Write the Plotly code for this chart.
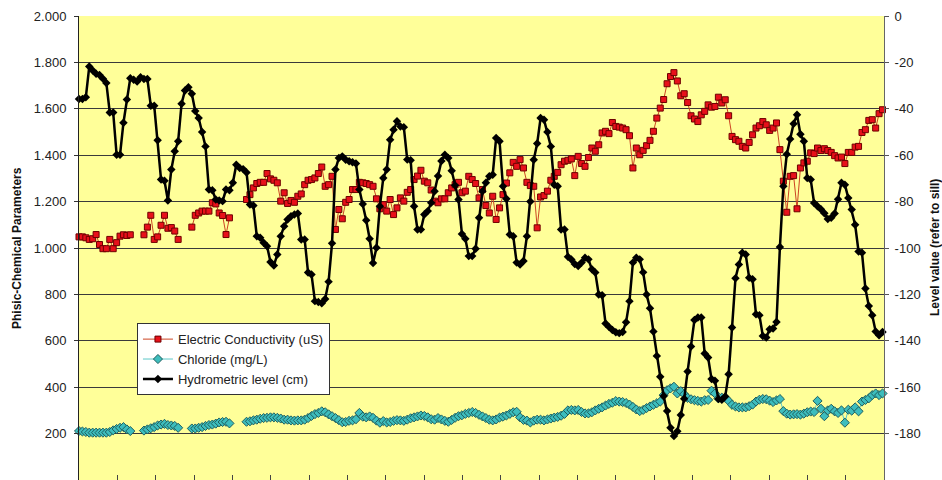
import plotly.graph_objects as go

# ---------------- data ----------------
week = list(range(236))

hydrometric_level = [
    -35.8, -35.8, -35.0, -21.8, -23.5, -24.9, -25.4, -27.0, -28.9, -41.6,
    -41.6, -59.8, -59.8, -46.0, -36.0, -26.8, -27.5, -28.2, -26.4, -27.2,
    -27.2, -38.7, -38.7, -53.6, -70.5, -71.0, -79.5, -66.2, -58.3, -54.0,
    -37.8, -32.1, -30.7, -33.5, -41.0, -44.0, -50.0, -56.2, -74.8, -75.1,
    -79.1, -79.5, -79.8, -74.8, -75.1, -71.9, -64.1, -65.5, -66.0, -67.5,
    -81.3, -81.7, -94.9, -95.6, -97.7, -99.2, -106.0, -107.5, -102.8, -94.9,
    -90.6, -87.7, -86.3, -85.6, -85.1, -96.3, -96.3, -110.6, -111.4, -122.9,
    -123.3, -123.8, -122.0, -114.5, -98.0, -66.2, -61.2, -60.5, -62.0, -62.6,
    -63.0, -63.6, -74.8, -81.0, -88.0, -96.0, -106.5, -99.9, -82.0, -69.8,
    -66.2, -53.3, -49.0, -45.4, -47.6, -47.9, -61.9, -62.2, -82.0, -92.0,
    -92.0, -85.6, -84.1, -80.5, -75.5, -69.0, -62.5, -59.8, -61.2, -66.7,
    -73.0, -79.1, -94.0, -96.0, -103.5, -103.5, -100.3, -87.0, -75.5, -71.9,
    -69.1, -68.4, -52.6, -54.0, -73.4, -78.8, -94.2, -94.9, -106.3, -107.1,
    -105.6, -94.9, -80.0, -62.0, -55.0, -44.0, -44.7, -50.0, -56.2, -72.7,
    -73.4, -92.0, -92.0, -103.8, -105.0, -106.9, -107.8, -106.3, -104.2, -104.9,
    -109.2, -110.6, -120.0, -120.4, -132.5, -134.0, -135.3, -136.3, -136.7, -136.2,
    -132.0, -122.9, -106.3, -104.2, -104.9, -110.5, -120.0, -126.0, -136.0, -146.5,
    -155.5, -163.8, -170.3, -177.5, -181.0, -179.0, -172.0, -165.0, -153.2, -142.5,
    -131.0, -130.0, -130.0, -145.5, -147.2, -156.5, -157.2, -165.1, -165.4, -164.0,
    -154.4, -134.3, -113.0, -107.1, -102.0, -102.8, -112.8, -113.5, -128.6, -129.0,
    -137.9, -138.6, -135.0, -134.7, -131.9, -99.6, -73.4, -59.6, -53.0, -46.4,
    -42.6, -51.0, -54.0, -69.8, -70.5, -80.6, -82.0, -83.3, -85.0, -87.5,
    -87.0, -85.1, -79.0, -71.9, -72.7, -78.4, -83.4, -90.0, -101.5, -102.0,
    -117.5, -125.0, -129.0, -136.0, -137.6, -136.2,
]

electric_conductivity = [
    1048, 1048, 1044, 1037, 1040, 1058, 1015, 997, 997, 1037,
    997, 1023, 1051, 1057, 1054, 1057, None, None, None, 1057,
    1090, 1141, 1037, 1048, 1098, 1141, 1085, 1088, 1073, 1037,
    None, None, None, 1090, 1141, 1151, 1159, 1159, 1159, 1195,
    1190, 1151, 1140, 1058, 1130, None, None, None, None, 1209,
    1230, 1259, 1278, 1283, 1283, 1321, 1298, 1292, 1281, 1202,
    1238, 1192, 1205, 1197, 1223, 1233, 1273, 1292, 1295, 1302,
    1321, 1349, 1266, 1273, 1309, 1080, 1166, 1126, 1197, 1209,
    1252, 1252, 1283, 1281, 1278, 1273, 1266, 1212, 1169, 1187,
    1159, 1209, 1144, 1173, 1216, 1202, 1240, 1252, 1295, 1310,
    1335, 1288, 1281, 1250, 1202, 1195, 1212, 1212, 1238, 1259,
    1273, 1283, 1238, 1245, 1309, 1295, 1278, 1216, 1252, 1183,
    1151, 1223, 1123, 1173, 1230, 1280, 1324, 1369, 1352, 1381,
    1345, 1283, 1269, 1266, 1087, 1220, 1226, 1245, 1292, 1309,
    1326, 1359, 1374, 1378, 1384, 1312, 1395, 1364, 1352, 1390,
    1431, 1417, 1445, 1496, 1503, 1493, 1541, 1524, 1521, 1517,
    1510, 1484, 1345, 1431, 1402, 1421, 1441, 1464, 1503, 1560,
    1603, 1640, 1708, 1739, 1756, 1720, 1656, 1665, 1627, 1570,
    1556, 1545, 1574, 1589, 1617, 1607, 1610, 1650, 1625, 1639,
    1570, 1481, 1467, 1460, 1438, 1431, 1455, 1488, 1517, 1527,
    1545, 1531, 1507, 1517, 1539, 1424, 1288, 1154, 1309, 1312,
    1169, 1345, 1367, 1374, 1410, 1407, 1431, 1420, 1428, 1420,
    1412, 1398, 1388, 1392, 1364, 1412, 1412, 1435, 1438, 1498,
    1510, 1550, 1553, 1517, 1579, 1596,
]

chloride = [
    211, 209, 207, 204, 204, 204, 204, 204, 204, 207,
    214, 220, 225, 228, 218, 211, None, None, None, 213,
    218, 223, 228, 235, 239, 242, 237, 235, 233, 225,
    None, None, None, 222, 222, 225, 228, 233, 237, 239,
    243, 248, 250, 251, 244, None, None, None, None, 251,
    253, 257, 260, 264, 267, 268, 270, 270, 268, 265,
    260, 260, 257, 256, 257, 257, 260, 267, 276, 284,
    289, 296, 292, 283, 275, 267, 258, 249, 250, 255,
    257, 262, 289, 273, 270, 274, 268, 256, 247, 254,
    248, 250, 255, 258, 257, 255, 260, 266, 270, 274,
    278, 276, 270, 262, 260, 267, 261, 255, 251, 259,
    268, 275, 279, 285, 289, 293, 289, 281, 274, 267,
    260, 257, 261, 269, 273, 278, 285, 292, 294, 270,
    259, 256, 248, 256, 260, 260, 257, 261, 265, 269,
    272, 277, 285, 300, 302, 300, 302, 293, 287, 287,
    292, 300, 307, 313, 321, 328, 333, 340, 338, 336,
    332, 325, 315, 304, 297, 302, 310, 317, 324, 331,
    338, 366, 387, 395, 402, 373, 383, 370, 354, 348,
    344, 341, 338, 344, 345, 385, 373, 352, 355, 355,
    341, 324, 317, 313, 313, 313, 318, 325, 338, 346,
    349, 348, 342, 336, 343, 349, 297, 286, 282, 283,
    284, 282, 286, 292, 295, 293, 341, 307, 275, 300,
    307, 296, 289, 300, 247, 303, 299, 313, 296, 338,
    345, 352, 366, 373, 366, 373,
]

left_tick_values = [0, 200, 400, 600, 800, 1000, 1200, 1400, 1600, 1800, 2000]
left_tick_labels = ["0", "200", "400", "600", "800", "1.000", "1.200", "1.400",
                    "1.600", "1.800", "2.000"]
right_tick_values = [-200, -180, -160, -140, -120, -100, -80, -60, -40, -20, 0]
right_tick_labels = ["-200", "-180", "-160", "-140", "-120", "-100", "-80", "-60",
                     "-40", "-20", "0"]

assert len(hydrometric_level) == len(week)
assert len(electric_conductivity) == len(week)
assert len(chloride) == len(week)

# ---------------- figure ----------------
x_end = 235.44
n_intervals = 21
x_ticks = [x_end * k / n_intervals for k in range(n_intervals + 1)]

fig = go.Figure()

fig.add_trace(go.Scatter(
    x=week, y=electric_conductivity, name="Electric Conductivity (uS)",
    mode="lines+markers", connectgaps=False, cliponaxis=False,
    line=dict(color="#CC4422", width=1),
    marker=dict(symbol="square", size=6, color="#E8101A",
                line=dict(color="#6E0000", width=1)),
))

fig.add_trace(go.Scatter(
    x=week, y=chloride, name="Chloride (mg/L)",
    mode="lines+markers", connectgaps=False, cliponaxis=False,
    line=dict(color="#5CC8C8", width=1),
    marker=dict(symbol="diamond", size=7, color="#3DBDBD",
                line=dict(color="#1F5F5F", width=1)),
))

fig.add_trace(go.Scatter(
    x=week, y=hydrometric_level, name="Hydrometric level (cm)", yaxis="y2",
    mode="lines+markers", cliponaxis=False,
    line=dict(color="#000000", width=2.5),
    marker=dict(symbol="diamond", size=6.5, color="#000000"),
))

fig.update_layout(
    width=942, height=480,
    margin=dict(l=79, r=58, t=16, b=0),
    paper_bgcolor="white",
    plot_bgcolor="#FFFF99",
    font=dict(family="Arial, 'Liberation Sans', sans-serif", size=13, color="#222222"),
    showlegend=True,
    xaxis=dict(
        range=[0, x_end], tickvals=x_ticks, showticklabels=False,
        ticks="inside", ticklen=5, tickcolor="#444444",
        showgrid=False, zeroline=False, showline=False, fixedrange=True,
    ),
    yaxis=dict(
        range=[0, 2000], tickvals=left_tick_values, ticktext=left_tick_labels,
        ticks="outside", ticklen=4, tickcolor="#333333",
        ticklabelstandoff=5,
        showline=True, linecolor="#222222", linewidth=1,
        showgrid=True, gridcolor="#3A3A3A", gridwidth=1,
        zeroline=False, automargin=False,
        tickfont=dict(size=13, color="#222222"),
    ),
    yaxis2=dict(
        overlaying="y", side="right", range=[-200, 0],
        tickvals=right_tick_values, ticktext=right_tick_labels,
        ticks="outside", ticklen=4, tickcolor="#555555",
        ticklabelstandoff=3,
        showline=True, linecolor="#666666", linewidth=1,
        showgrid=False, zeroline=False, automargin=False,
        tickfont=dict(size=13, color="#222222"),
    ),
    legend=dict(
        x=0.072, y=0.338, xanchor="left", yanchor="top",
        bgcolor="white", bordercolor="#333333", borderwidth=1,
        font=dict(size=13, color="#222222"),
        tracegroupgap=0,
    ),
    annotations=[
        dict(text="Phisic-Chemical Parameters", xref="paper", yref="paper",
             x=-0.077, y=0.5, xanchor="center", yanchor="middle",
             textangle=-90, showarrow=False,
             font=dict(size=12, color="#111111", weight="bold")),
        dict(text="Level value (refer to sill)", xref="paper", yref="paper",
             x=1.0634, y=0.5, xanchor="center", yanchor="middle",
             textangle=-90, showarrow=False,
             font=dict(size=12, color="#111111", weight="bold")),
    ],
)

fig.write_html(
    "out.html",
    config={"displayModeBar": False},
    post_script="document.body.style.margin='0';document.body.style.overflow='hidden';",
)
